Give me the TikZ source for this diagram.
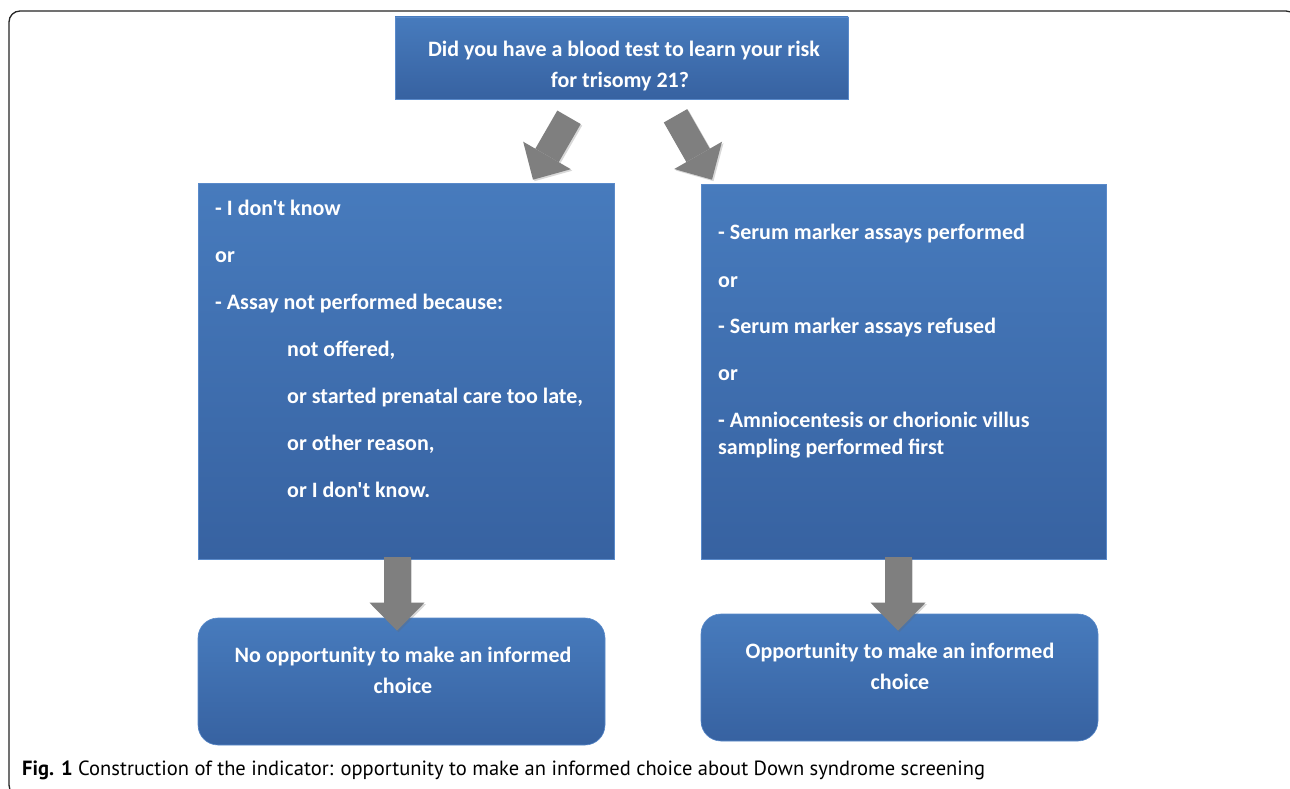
\documentclass[tikz,border=0pt]{standalone}
\usepackage{fontspec}
\setmainfont{Carlito}[Ligatures=TeXOff]
\newfontfamily\capfont{PT Sans}
\usetikzlibrary{arrows.meta,calc}
\definecolor{boxtop}{HTML}{477BBD}
\definecolor{boxbot}{HTML}{3762A1}
\definecolor{boxedge}{HTML}{5A8ACA}
\definecolor{arrgray}{HTML}{7F7F7F}
\tikzset{
  flatbox/.style={draw=boxedge, line width=0.6pt, top color=boxtop, bottom color=boxbot, inner sep=0pt},
  roundbox/.style={flatbox, rounded corners=20pt},
  txt/.style={text=white, font=\bfseries\fontsize{22}{26}\selectfont, inner sep=0pt, anchor=base west},
  ctxt/.style={txt, anchor=base},
  blockarrow/.style={draw=arrgray, line width=27pt, line cap=butt,
    -{Triangle[width=55pt,length=28pt,line width=0pt]}},
  arrshadow/.style={draw=black!60, opacity=0.25, line width=27pt, line cap=butt,
    -{Triangle[width=55pt,length=28pt,line width=0pt]}, transform canvas={shift={(1.5pt,-1.5pt)}}},
}
\begin{document}
\begin{tikzpicture}[x=1pt,y=-1pt]
\useasboundingbox (0,0) rectangle (1290,789);
\fill[white] (0,0) rectangle (1290,789);
% frame
\draw[line width=1.3pt, draw=black!85, rounded corners=11pt] (9,11) rectangle (1297,796);

% boxes
\node[flatbox, minimum width=453pt, minimum height=82pt] (top) at (621.5,58) {};
\node[flatbox, minimum width=416pt, minimum height=376pt] (left) at (406,371) {};
\node[flatbox, minimum width=405pt, minimum height=375pt] (right) at (903.5,371.5) {};
\node[roundbox, minimum width=407pt, minimum height=127pt] (bl) at (401.5,681.5) {};
\node[roundbox, minimum width=397pt, minimum height=127pt] (br) at (899.5,677.5) {};

% arrow end points
\coordinate (a1s) at ($(top.south)+(-52.5,18)$);
\coordinate (a1e) at ($(left.north)+(127,-3)$);
\coordinate (a2s) at ($(top.south)+(54,16.5)$);
\coordinate (a2e) at ($(right.north)+(-191.5,-4)$);
\coordinate (d1s) at ($(left.south)+(-9,-2)$);
\coordinate (d1e) at ($(bl.north)+(-4.5,13)$);
\coordinate (d2s) at ($(right.south)+(-5.5,-2)$);
\coordinate (d2e) at ($(br.north)+(-1.5,17)$);

% arrows
\foreach \s/\e in {a1s/a1e,a2s/a2e,d1s/d1e,d2s/d2e}{
  \draw[arrshadow] (\s) -- (\e);
  \draw[blockarrow] (\s) -- (\e);
}

% texts
\node[ctxt] (t1) at (624,57) {Did you have a blood test to learn your risk};
\node[ctxt] (t2) at (620,88) {for trisomy 21?};

\node[txt] (l1) at (215,215) {- I don't know};
\node[txt] (l2) at (215,262) {or};
\node[txt] (l3) at (215,309) {- Assay not performed because:};
\node[txt] (l4) at (287,356) {not offered,};
\node[txt] (l5) at (287,403) {or started prenatal care too late,};
\node[txt] (l6) at (287,450) {or other reason,};
\node[txt] (l7) at (287,497) {or I don't know.};

\node[txt] (r1) at (718,239) {- Serum marker assays performed};
\node[txt] (r2) at (718,287) {or};
\node[txt] (r3) at (718,333) {- Serum marker assays refused};
\node[txt] (r4) at (718,380) {or};
\node[txt] (r5) at (718,427) {- Amniocentesis or chorionic villus};
\node[txt] (r6) at (718,454) {sampling performed first};

\node[ctxt] (b1) at (403,662) {No opportunity to make an informed};
\node[ctxt] (b2) at (403,693) {choice};
\node[ctxt] (b3) at (900,658) {Opportunity to make an informed};
\node[ctxt] (b4) at (900,689) {choice};

% caption
\node[inner sep=0pt, anchor=base west] (cap) at (22,775)
  {\resizebox{963pt}{!}{\capfont\fontsize{20}{24}\selectfont\textbf{Fig. 1} Construction of the indicator: opportunity to make an informed choice about Down syndrome screening}};
\end{tikzpicture}
\end{document}
